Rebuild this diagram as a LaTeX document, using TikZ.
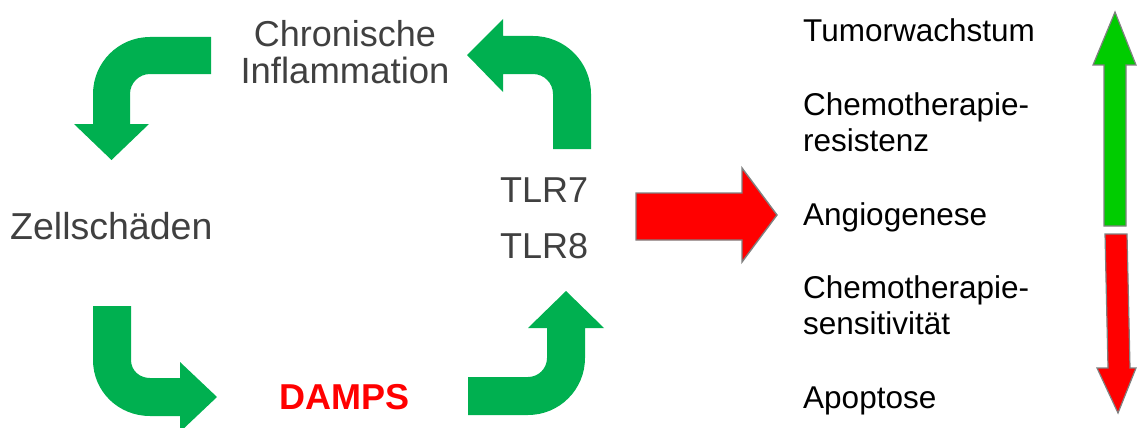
\documentclass[tikz,border=0pt]{standalone}
\usepackage{fontspec}
\setmainfont{Liberation Sans}
\definecolor{loopgreen}{RGB}{0,176,80}
\definecolor{upgreen}{RGB}{0,204,0}
\definecolor{labelgray}{RGB}{64,64,64}
\definecolor{edgegray}{RGB}{128,128,128}
\tikzset{
  cyclelabel/.style={anchor=base, inner sep=0pt, text=labelgray,
    font=\fontsize{36}{40}\selectfont},
  effectlabel/.style={anchor=base west, inner sep=0pt, text=black,
    font=\fontsize{31.5}{36}\selectfont},
  bentarrow/.style={fill=loopgreen, draw=none},
  blockarrow/.style={draw=edgegray, line width=1.4pt, line join=miter}
}
\begin{document}
\begin{tikzpicture}[x=1pt,y=-1pt]
\useasboundingbox (0,0) rectangle (1137,428);

% cycle labels
\node[cyclelabel] (chron) at (345,47) {Chronische};
\node[cyclelabel, font=\fontsize{36.5}{40}\selectfont] (infl) at (345,84) {Inflammation};
\node[cyclelabel, anchor=base west, font=\fontsize{37.5}{40}\selectfont] (zell) at (10,239) {Zellschäden};
\node[cyclelabel, anchor=base west] (tlr7) at (500,202) {TLR7};
\node[cyclelabel, anchor=base west] (tlr8) at (500,258) {TLR8};
\node[cyclelabel, text=red, font=\fontsize{36}{40}\selectfont\bfseries] (damps) at (344.5,409) {DAMPS};

% bent arrow: inflammation -> cell damage (down)
\path[bentarrow] (211,37) -- (150,37)
  .. controls (118.5,37) and (93,62.5) .. (93,94)
  -- (93,124) -- (74,124) -- (111.5,160) -- (149,124) -- (130,124) -- (130,94)
  .. controls (130,83) and (139,74) .. (150,74)
  -- (211,74) -- cycle;

% bent arrow: cell damage -> DAMPS (right)
\path[bentarrow] (93,306) -- (131,306) -- (131,360)
  .. controls (131,370.5) and (139.5,378) .. (150,378)
  -- (180,378) -- (180,362) -- (217,397) -- (180,432) -- (180,416) -- (150,416)
  .. controls (118.5,416) and (93,391.5) .. (93,360) -- cycle;

% bent arrow: DAMPS -> TLR (up)
\path[bentarrow] (468,377) -- (528,377)
  .. controls (538.5,377) and (547,368.5) .. (547,358)
  -- (547,328) -- (528,328) -- (566,291) -- (604,328) -- (585,328) -- (585,358)
  .. controls (585,389.5) and (559.5,415) .. (528,415)
  -- (468,415) -- cycle;

% bent arrow: TLR -> inflammation (left)
\path[bentarrow] (553,149) -- (553,94)
  .. controls (553,83) and (544,74) .. (533,74)
  -- (503,74) -- (503,92) -- (467,55) -- (503,19) -- (503,36) -- (533,36)
  .. controls (565,36) and (591,62) .. (591,94)
  -- (591,149) -- cycle;

% block arrow towards the effects
\draw[blockarrow, fill=red] (636,193) -- (742,193) -- (742,168) -- (777,215)
  -- (742,262) -- (742,240) -- (636,240) -- cycle;

% effect labels
\node[effectlabel] (tumor) at (803,42) {Tumorwachstum};
\node[effectlabel] (chemoa) at (803,115) {Chemotherapie-};
\node[effectlabel] (resist) at (803,151) {resistenz};
\node[effectlabel] (angio) at (803,225) {Angiogenese};
\node[effectlabel] (chemob) at (803,298) {Chemotherapie-};
\node[effectlabel] (sensi) at (803,334) {sensitivität};
\node[effectlabel] (apop) at (803,408) {Apoptose};

% up / down scale arrows
\draw[blockarrow, line width=1.2pt, fill=upgreen] (1104,226) -- (1104,65) -- (1093,65)
  -- (1115,12) -- (1136,65) -- (1126,65) -- (1126,226) -- cycle;
\draw[blockarrow, line width=1.2pt, fill=red] (1105,234) -- (1127,234) -- (1130,368)
  -- (1136,368) -- (1118,413) -- (1097,368) -- (1108,368) -- cycle;
\end{tikzpicture}
\end{document}
